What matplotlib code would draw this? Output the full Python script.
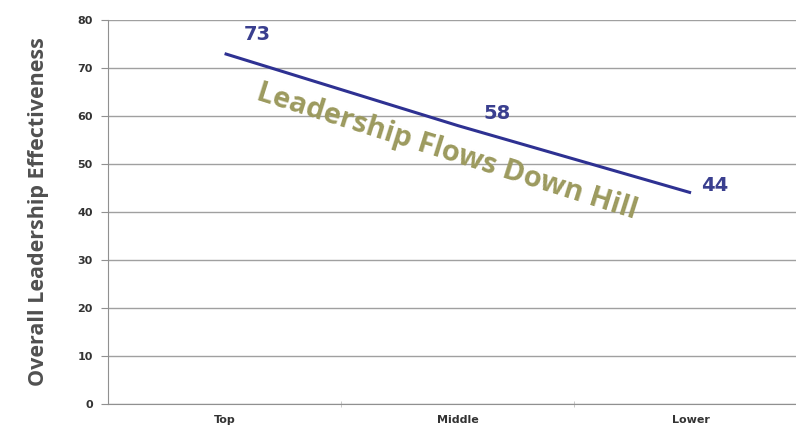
import matplotlib
matplotlib.use("Agg")
import matplotlib.pyplot as plt

categories = ["Top", "Middle", "Lower"]
values = [73, 58, 44]
yticks = [0, 10, 20, 30, 40, 50, 60, 70, 80]

fig = plt.figure(figsize=(7.96, 4.32), dpi=100)
ax = fig.add_axes([108/796, 1-404/432, 1-108/796, 384/432])
x = list(range(len(categories)))
ax.plot(x, values, color="#2e3192", lw=2.2, solid_capstyle="butt")
ax.set_xlim(-0.5, 2.45)
ax.set_ylim(0, 80)
ax.set_yticks(yticks)
ax.set_xticks(x)
ax.set_xticklabels(categories)
ax.set_xticks([0.5, 1.5], minor=True)
ax.grid(axis="y", color="#a0a0a0", lw=1.0)
ax.set_axisbelow(True)
for s in ["top", "right"]:
    ax.spines[s].set_visible(False)
ax.spines["left"].set_color("#909090")
ax.spines["bottom"].set_color("#909090")
ax.tick_params(axis="y", length=5, color="#909090", labelsize=8, labelcolor="#333333", pad=6)
ax.tick_params(axis="x", which="major", length=0, labelsize=8, labelcolor="#333333", pad=8)
ax.tick_params(axis="x", which="minor", length=4, color="#c0c0c0", direction="inout")
for lbl in ax.get_xticklabels() + ax.get_yticklabels():
    lbl.set_fontweight("bold")
ax.set_ylabel("Overall Leadership Effectiveness", fontsize=15.5, fontweight="bold",
              color="#505050", family="Open Sans", labelpad=20)

offsets = [(0.14, 4.0), (0.17, 2.5), (0.1, 1.5)]
for xi, v, (dx, dy) in zip(x, values, offsets):
    ax.text(xi + dx, v + dy, str(v), color="#3a3f8f", fontsize=14, fontweight="bold",
            ha="center", va="center", family="DejaVu Sans")

ax.text(0.955, 52.5, "Leadership Flows Down Hill", color="#9c9a5e", fontsize=21,
        fontweight="bold", family="Open Sans", rotation=-17.5, rotation_mode="anchor",
        ha="center", va="center")

fig.savefig("out.png", dpi=100)
